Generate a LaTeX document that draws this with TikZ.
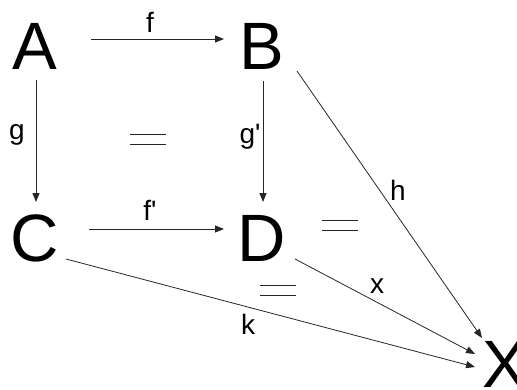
\documentclass[tikz,border=0pt]{standalone}
\usepackage{fontspec}
\setmainfont{Liberation Sans}
\usetikzlibrary{arrows.meta, positioning, calc}

\tikzset{
  obj/.style={inner sep=0pt, font=\fontsize{67}{67}\selectfont},
  lbl/.style={inner sep=0pt, font=\fontsize{28}{28}\selectfont},
  arr/.style={draw=black!85, line width=0.8pt, -{Triangle[length=9pt, width=7pt]}}
}
\newcommand{\eqmark}[2]{%
  \draw[black!85, line width=0.8pt] (#1-18,#2-5) -- (#1+18,#2-5)
                                    (#1-18,#2+5.5) -- (#1+18,#2+5.5);}

\begin{document}
\begin{tikzpicture}[x=1pt, y=-1pt]
  \useasboundingbox (0,0) rectangle (517,389);

  % objects
  \node[obj] (A) at (35,46) {A};
  \node[obj] (B) at (262,46) {B};
  \node[obj] (C) at (35,238) {C};
  \node[obj] (D) at (262,238) {D};
  \node[obj] (X) at (505,364) {X};

  % square
  \draw[arr] ([shift={(56,-7)}]A.center) -- ([shift={(-38,-7)}]B.center);
  \draw[arr] ([shift={(1,34)}]A.center) -- ([shift={(1,-36)}]C.center);
  \draw[arr] ([shift={(1,35)}]B.center) -- ([shift={(1,-36)}]D.center);
  \draw[arr] ([shift={(54,-9)}]C.center) -- ([shift={(-38,-9)}]D.center);

  % into X
  \draw[arr] ([shift={(35,25)}]B.center) -- ([shift={(-23,-26)}]X.center);
  \draw[arr] ([shift={(33,21)}]D.center) -- ([shift={(-30,-10)}]X.center);
  \draw[arr] ([shift={(31,21)}]C.center) -- ([shift={(-30,3)}]X.center);

  % labels
  \node[lbl] (lf) at (150,22) {f};
  \node[lbl] (lg) at (17,135) {g};
  \node[lbl] (lg2) at (250,137) {g\textquotesingle};
  \node[lbl] (lf2) at (150,210) {f\textquotesingle};
  \node[lbl] (lh) at (398,190) {h};
  \node[lbl] (lx) at (377,286) {x};
  \node[lbl] (lk) at (248,324) {k};

  % commuting marks
  \eqmark{148}{139}
  \eqmark{340}{225}
  \eqmark{278}{290}
\end{tikzpicture}
\end{document}
